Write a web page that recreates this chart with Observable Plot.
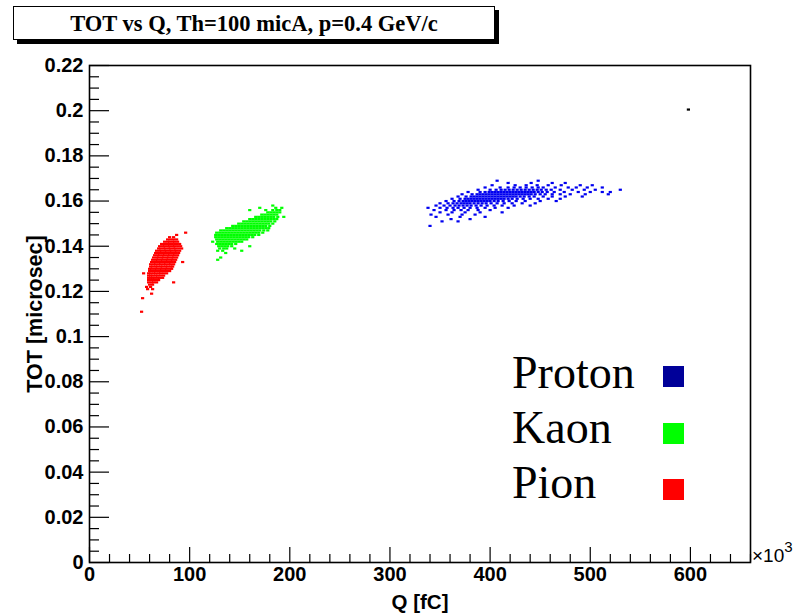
<!DOCTYPE html>
<html><head><meta charset="utf-8">
<script src="https://cdn.jsdelivr.net/npm/d3@7"></script>
<script src="https://cdn.jsdelivr.net/npm/@observablehq/plot@0.6"></script>
<style>
html,body{margin:0;padding:0;background:#fff;}
#wrap{position:relative;width:797px;height:613px;overflow:hidden;}
#wrap svg{position:absolute;left:0;top:0;}
#title{position:absolute;left:13px;top:6px;width:480px;height:32px;border:1px solid #000;background:#fff;box-shadow:4px 4px 0 #000;font:bold 22.5px "Liberation Serif","Times New Roman",serif;text-align:center;line-height:33px;z-index:2;}
.leg{position:absolute;left:512px;font:46px "Liberation Serif","Times New Roman",serif;line-height:46px;z-index:2;}
.sw{position:absolute;width:21px;height:21px;z-index:2;}
#exp{position:absolute;left:752px;top:541px;font:19px "Liberation Sans",Arial,sans-serif;z-index:2;}
#exp sup{font-size:15px;position:relative;top:-3px;}
g[aria-label="y-axis label"] text{font-size:21.5px;}
g[aria-label="x-axis label"] text{font-size:20.5px;}
</style></head>
<body><div id="wrap"></div>
<script>
// ---- data ----
const titleText = "TOT vs Q, Th=100 micA, p=0.4 GeV/c";
const xLabel = "Q [fC]";
const yLabel = "TOT [microsec]";
const xTicks = [0, 100, 200, 300, 400, 500, 600];
const yTicks = [0, 0.02, 0.04, 0.06, 0.08, 0.1, 0.12, 0.14, 0.16, 0.18, 0.2, 0.22];
const species = ["Proton", "Kaon", "Pion"];
const speciesColor = ["#0000f0", "#00ff00", "#ff0000"];
const legendColor = ["#000099", "#00ff00", "#ff0000"];

// rows: [TOT (microsec), [Q values (fC)]]
const pionRows = [
  [0.146, [96]],
  [0.145, [87]],
  [0.144, [80, 84]],
  [0.143, [78, 81, 84, 87]],
  [0.142, [75, 78, 80, 83, 85, 88]],
  [0.141, [72, 75, 77, 80, 82, 85, 87, 90]],
  [0.140, [70, 73, 75, 78, 80, 83, 85, 88, 91]],
  [0.139, [69, 71, 74, 76, 79, 81, 84, 86, 89, 92]],
  [0.138, [67, 70, 72, 75, 77, 80, 82, 85, 87, 90]],
  [0.137, [66, 69, 71, 74, 76, 79, 81, 84, 86, 89]],
  [0.136, [65, 68, 70, 73, 75, 78, 80, 83, 85, 88]],
  [0.135, [64, 67, 69, 72, 74, 77, 79, 82, 84, 87]],
  [0.134, [63, 66, 68, 71, 73, 76, 78, 81, 83, 86]],
  [0.133, [62, 65, 67, 70, 72, 75, 77, 80, 82, 85, 93]],
  [0.132, [61, 64, 66, 69, 71, 74, 76, 79, 81, 84]],
  [0.131, [61, 63, 66, 68, 71, 73, 76, 78, 81, 83]],
  [0.130, [60, 62, 65, 67, 70, 72, 75, 77, 80, 82]],
  [0.129, [60, 62, 64, 67, 69, 72, 74, 77, 80]],
  [0.128, [54, 59, 61, 64, 66, 69, 71, 74, 77]],
  [0.127, [59, 61, 63, 66, 68, 71, 74]],
  [0.126, [59, 61, 63, 65, 68, 70, 73]],
  [0.125, [59, 61, 64, 66, 69]],
  [0.124, [59, 62, 64, 67, 84]],
  [0.123, [60, 63]],
  [0.122, [57, 61]],
  [0.121, [58, 63]],
  [0.119, [62]],
  [0.117, [53]],
  [0.111, [52]]
];
const kaonRows = [
  [0.158, [183]],
  [0.157, [170, 186, 192]],
  [0.156, [160, 176, 183, 187, 190]],
  [0.155, [178, 181, 184, 187, 190]],
  [0.154, [172, 175, 178, 181, 184, 187]],
  [0.153, [166, 169, 172, 175, 178, 181, 184, 188, 194]],
  [0.152, [160, 163, 166, 169, 172, 175, 178, 181, 184, 187]],
  [0.151, [154, 157, 160, 163, 166, 169, 172, 175, 178, 181, 185]],
  [0.150, [149, 152, 155, 158, 161, 164, 167, 170, 173, 176, 179, 183]],
  [0.149, [143, 146, 149, 152, 155, 158, 161, 164, 167, 170, 173, 176, 180]],
  [0.148, [137, 140, 143, 146, 149, 152, 155, 158, 161, 164, 167, 170, 173, 176, 179]],
  [0.147, [131, 134, 137, 140, 143, 146, 149, 152, 155, 158, 161, 164, 167, 170, 174, 178]],
  [0.146, [127, 130, 133, 136, 139, 142, 145, 148, 151, 154, 157, 160, 163, 166, 169, 173]],
  [0.145, [126, 129, 132, 135, 138, 141, 144, 147, 150, 153, 156, 159, 162, 165, 169]],
  [0.144, [126, 129, 132, 135, 138, 141, 144, 147, 150, 153, 156, 159, 163]],
  [0.143, [127, 130, 133, 136, 139, 142, 145, 148, 151, 154, 157]],
  [0.142, [123, 128, 131, 134, 137, 140, 143, 146, 149, 152]],
  [0.141, [127, 130, 133, 136, 139, 142, 146]],
  [0.140, [129, 132, 135, 138, 142, 160]],
  [0.139, [130, 134, 137, 145]],
  [0.138, [128, 133, 152]],
  [0.137, [136]],
  [0.135, [131]],
  [0.134, [128]]
];
const protonRows = [
  [0.169, [407, 448]],
  [0.168, [418, 441, 462, 475]],
  [0.167, [402, 425, 436, 447, 458, 471, 490, 502]],
  [0.166, [395, 410, 418, 424, 430, 436, 442, 448, 453, 465, 478, 486, 497, 512]],
  [0.165, [388, 400, 406, 411, 415, 419, 423, 427, 431, 435, 439, 443, 447, 451, 456, 461, 470, 482, 494, 505, 530]],
  [0.164, [378, 390, 395, 399, 402, 405, 408, 411, 414, 417, 420, 423, 426, 429, 432, 435, 438, 441, 444, 448, 452, 457, 464, 474, 488, 500, 512, 520]],
  [0.163, [372, 382, 387, 390, 393, 396, 399, 402, 405, 408, 411, 414, 417, 420, 423, 426, 429, 432, 435, 438, 441, 445, 450, 455, 462, 470, 480, 495, 518]],
  [0.162, [368, 376, 381, 384, 387, 390, 393, 396, 399, 402, 405, 408, 411, 414, 417, 420, 423, 426, 430, 434, 439, 444, 453, 462, 475, 492]],
  [0.161, [362, 370, 375, 378, 381, 384, 387, 390, 393, 396, 399, 402, 405, 408, 411, 414, 418, 422, 427, 433, 440, 448, 458, 470]],
  [0.160, [356, 364, 369, 373, 376, 379, 382, 385, 388, 391, 394, 397, 400, 404, 408, 413, 419, 426, 435, 450, 466]],
  [0.159, [350, 358, 363, 367, 371, 374, 377, 380, 384, 388, 392, 396, 401, 407, 414, 422, 432, 445]],
  [0.158, [346, 354, 360, 365, 369, 373, 377, 381, 386, 391, 397, 404, 412, 424, 440]],
  [0.157, [338, 350, 357, 363, 368, 374, 380, 387, 395, 405, 418]],
  [0.156, [344, 356, 364, 371, 378, 388, 400]],
  [0.155, [350, 362, 375, 390, 412]],
  [0.154, [341, 358, 372, 385]],
  [0.153, [346, 370, 395]],
  [0.152, [361, 380]],
  [0.151, [352, 368]],
  [0.149, [340]]
];
const strayPoint = [[598, 0.2005]];

// ---- build ----
const rowsBySpecies = {Proton: protonRows, Kaon: kaonRows, Pion: pionRows};
const points = [];
for (const s of species) {
  for (const [t, qs] of rowsBySpecies[s]) for (const q of qs) points.push({q, t, s});
}
const stray = strayPoint.map(([q, t]) => ({q, t}));

const dash = {draw(c) { c.moveTo(-1.6, -1.1); c.lineTo(1.6, -1.1); c.lineTo(1.6, 1.1); c.lineTo(-1.6, 1.1); c.closePath(); }};

const frameW = 797 - 89 - 47, frameH = 613 - 65 - 51;
const yMinor = d3.range(0, 0.2201, 0.005).filter(v => Math.abs(Math.round(v / 0.02) * 0.02 - v) > 1e-6);
const xMinor = d3.range(0, 661, 20).filter(v => v % 100 !== 0);

const plot = Plot.plot({
  width: 797, height: 613,
  marginLeft: 89, marginRight: 47, marginTop: 65, marginBottom: 51,
  style: {fontFamily: '"Liberation Sans", Arial, Helvetica, sans-serif', fontSize: "20px", fontWeight: "bold", color: "#000", background: "transparent", overflow: "visible"},
  x: {domain: [0, 660], ticks: xTicks, tickSize: 0, tickPadding: 4, tickFormat: d3.format("d"), label: xLabel, labelAnchor: "center", labelOffset: 46, labelArrow: "none"},
  y: {domain: [0, 0.22], ticks: yTicks, tickSize: 0, tickPadding: 6, tickFormat: d3.format("~g"), label: yLabel, labelAnchor: "center", labelOffset: 63, labelArrow: "none"},
  color: {domain: species, range: speciesColor},
  marks: [
    Plot.dot(points, {x: "q", y: "t", fill: "s", symbol: dash, stroke: null}),
    Plot.dot(stray, {x: "q", y: "t", fill: "#000", symbol: dash, stroke: null}),
    Plot.tickY(yTicks, {insetRight: frameW - 20, stroke: "#000", strokeWidth: 1.2}),
    Plot.tickY(yMinor, {insetRight: frameW - 10, stroke: "#000", strokeWidth: 1.2}),
    Plot.tickX(xTicks, {insetTop: frameH - 15, stroke: "#000", strokeWidth: 1.2}),
    Plot.tickX(xMinor, {insetTop: frameH - 8, stroke: "#000", strokeWidth: 1.2}),
    Plot.frame({stroke: "#000", strokeWidth: 1.6})
  ]
});

const wrap = document.getElementById("wrap");
wrap.appendChild(plot);

const title = document.createElement("div");
title.id = "title"; title.textContent = titleText;
wrap.appendChild(title);

const exp = document.createElement("div");
exp.id = "exp"; exp.innerHTML = "\u00d710<sup>3</sup>";
wrap.appendChild(exp);

const legTops = [350, 405, 460];
const swTops = [366, 423, 479];
species.forEach((s, i) => {
  const t = document.createElement("div");
  t.className = "leg"; t.style.top = legTops[i] + "px"; t.textContent = s;
  wrap.appendChild(t);
  const sw = document.createElement("div");
  sw.className = "sw"; sw.style.top = swTops[i] + "px"; sw.style.left = "663px"; sw.style.background = legendColor[i];
  wrap.appendChild(sw);
});
</script>
</body></html>
